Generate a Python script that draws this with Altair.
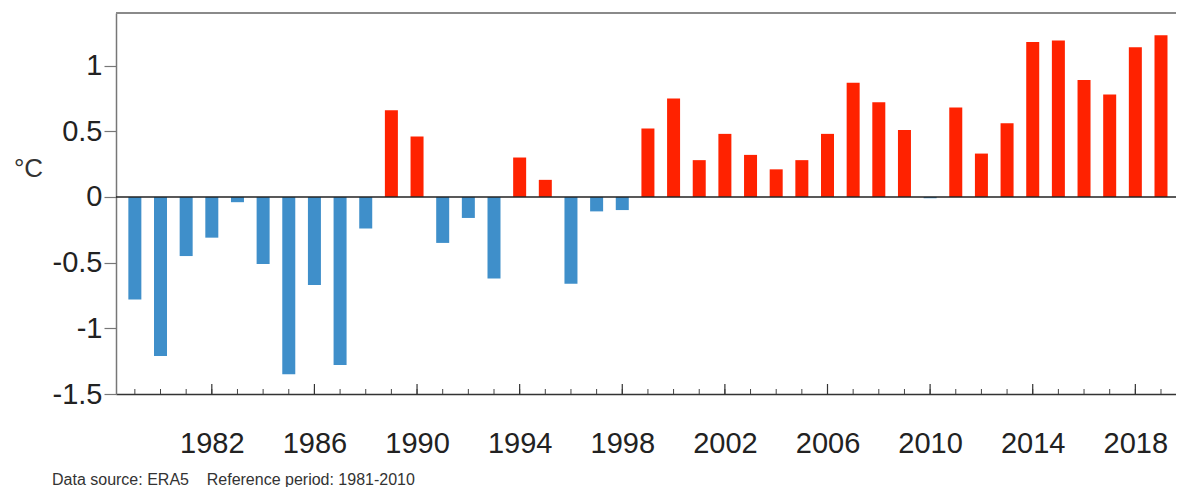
import altair as alt
import pandas as pd

# ---- data ----
years = list(range(1979, 2020))
anomalies = [
    -0.78, -1.21, -0.45, -0.31, -0.04, -0.51, -1.35, -0.67, -1.28, -0.24,
    0.66, 0.46, -0.35, -0.16, -0.62, 0.30, 0.13, -0.66, -0.11, -0.10,
    0.52, 0.75, 0.28, 0.48, 0.32, 0.21, 0.28, 0.48, 0.87, 0.72,
    0.51, -0.01, 0.68, 0.33, 0.56, 1.18, 1.19, 0.89, 0.78, 1.14,
    1.23,
]
label_years = [1982, 1986, 1990, 1994, 1998, 2002, 2006, 2010, 2014, 2018]
y_ticks = [-1.5, -1, -0.5, 0, 0.5, 1]
y_title = "°C"
footer = "Data source: ERA5\u00a0\u00a0\u00a0\u00a0Reference period: 1981-2010"

BLUE = "#3f8fca"
RED = "#ff2200"
FONT = "Liberation Sans"
W, H = 1060, 381

df = pd.DataFrame({
    "year": years,
    "anomaly": anomalies,
    "sign": ["pos" if v > 0 else "neg" for v in anomalies],
})
zero_df = pd.DataFrame({"anomaly": [0.0]})
one_df = pd.DataFrame({"k": [0]})
minor_df = pd.DataFrame({"year": years})
major_df = pd.DataFrame({"year": label_years})
footer_df = pd.DataFrame({"t": [footer]})

x_scale = alt.Scale(domain=[1978.46, 2019.39], nice=False, zero=False)
y_scale = alt.Scale(domain=[-1.5, 1.4], nice=False, zero=False)

x_axis = alt.Axis(
    values=label_years, format="d", ticks=False, grid=False, title=None,
    labelFontSize=29, labelPadding=35, labelColor="#222", labelFont=FONT,
    domainColor="#333", domainWidth=1.5, labelFlush=False, labelOverlap=False,
)
y_axis = alt.Axis(
    values=y_ticks, labelExpr="datum.value + ''", grid=False,
    labelFontSize=29, labelPadding=2, labelColor="#222", labelFont=FONT,
    tickSize=12, tickColor="#777", tickWidth=1.2,
    domainColor="#777", domainWidth=1.5,
    title=y_title, titleAngle=0, titleX=-88, titleY=155, titleFontSize=26,
    titleFontWeight="normal", titleColor="#333", titleFont=FONT,
    titleAlign="center", titleBaseline="middle",
)

x_enc = alt.X("year:Q", scale=x_scale, axis=x_axis)
y_enc = alt.Y("anomaly:Q", scale=y_scale, axis=y_axis)

bars = alt.Chart(df).mark_bar(orient="vertical", width=13).encode(
    x=x_enc,
    y=y_enc,
    y2=alt.datum(0),
    color=alt.Color("sign:N", scale=alt.Scale(domain=["neg", "pos"], range=[BLUE, RED]), legend=None),
)

zero_line = alt.Chart(zero_df).mark_rule(color="#222", strokeWidth=1.5).encode(y=y_enc)

top_border = alt.Chart(one_df).mark_rule(color="#8a8a8a", strokeWidth=2).encode(
    x=alt.value(0), x2=alt.value(W), y=alt.value(0)
)

minor_ticks = alt.Chart(minor_df).mark_rule(color="#444", strokeWidth=1).encode(
    x=x_enc, y=alt.value(H), y2=alt.value(H - 5)
)
major_ticks = alt.Chart(major_df).mark_rule(color="#333", strokeWidth=1.2).encode(
    x=x_enc, y=alt.value(H), y2=alt.value(H - 10)
)

footer_text = alt.Chart(footer_df).mark_text(
    align="left", baseline="middle", fontSize=16, color="#333", font=FONT
).encode(x=alt.value(-64), y=alt.value(467), text="t:N")

chart = alt.layer(
    bars, zero_line, minor_ticks, major_ticks, top_border, footer_text
).properties(
    width=W, height=H,
    padding={"left": 108, "top": 5, "right": 0, "bottom": 93},
    autosize=alt.AutoSizeParams(type="none"),
).configure_view(stroke=None).configure(background="white")

chart.save("out.html", embed_options={"renderer": "svg", "actions": False})
